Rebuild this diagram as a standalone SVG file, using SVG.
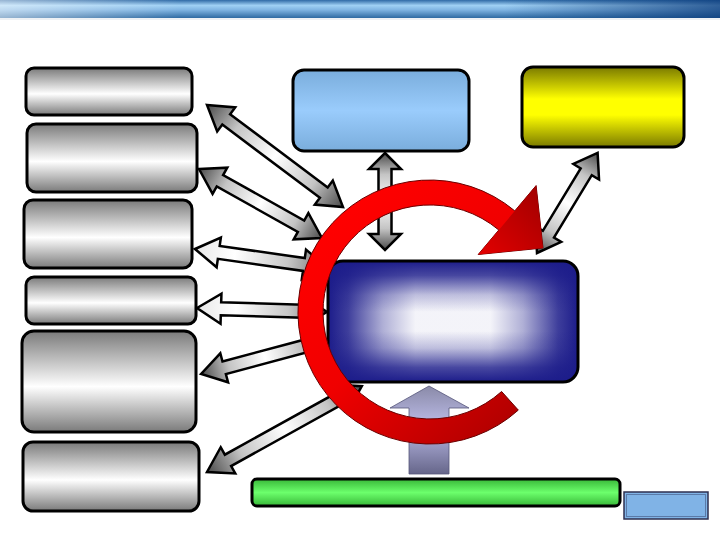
<svg xmlns="http://www.w3.org/2000/svg" width="720" height="540" viewBox="0 0 720 540">
<defs>
<linearGradient id="band" x1="0" y1="0" x2="0" y2="1">
<stop offset="0" stop-color="#2f6aa6"/><stop offset="0.3" stop-color="#9fd0f4"/><stop offset="0.55" stop-color="#7fb4e2"/><stop offset="1" stop-color="#2e6aa2"/>
</linearGradient>
<linearGradient id="bandH" x1="0" y1="0" x2="1" y2="0">
<stop offset="0" stop-color="#ffffff" stop-opacity="0.5"/><stop offset="0.25" stop-color="#ffffff" stop-opacity="0"/><stop offset="0.7" stop-color="#0a3a7a" stop-opacity="0"/><stop offset="1" stop-color="#0a3a7a" stop-opacity="0.75"/>
</linearGradient>
<linearGradient id="gray" x1="0" y1="0" x2="0" y2="1">
<stop offset="0" stop-color="#7a7a7a"/><stop offset="0.55" stop-color="#ffffff"/><stop offset="1" stop-color="#7a7a7a"/>
</linearGradient>
<linearGradient id="sky" x1="0" y1="0" x2="0" y2="1">
<stop offset="0" stop-color="#7aaddc"/><stop offset="0.5" stop-color="#9accfc"/><stop offset="1" stop-color="#7aaddc"/>
</linearGradient>
<linearGradient id="yel" x1="0" y1="0" x2="0" y2="1">
<stop offset="0" stop-color="#7a7a00"/><stop offset="0.4" stop-color="#ffff00"/><stop offset="0.6" stop-color="#ffff00"/><stop offset="1" stop-color="#7a7a00"/>
</linearGradient>
<linearGradient id="grn" x1="0" y1="0" x2="0" y2="1">
<stop offset="0" stop-color="#38b838"/><stop offset="0.5" stop-color="#6cff6c"/><stop offset="1" stop-color="#38b838"/>
</linearGradient>
<linearGradient id="navH" x1="0" y1="0" x2="1" y2="0">
<stop offset="0" stop-color="#1c1c8a" stop-opacity="1"/><stop offset="0.08" stop-color="#1c1c8a" stop-opacity="0.85"/><stop offset="0.22" stop-color="#1c1c8a" stop-opacity="0.35"/><stop offset="0.35" stop-color="#1c1c8a" stop-opacity="0.05"/><stop offset="0.65" stop-color="#1c1c8a" stop-opacity="0.05"/><stop offset="0.78" stop-color="#1c1c8a" stop-opacity="0.35"/><stop offset="0.92" stop-color="#1c1c8a" stop-opacity="0.85"/><stop offset="1" stop-color="#1c1c8a" stop-opacity="1"/>
</linearGradient>
<linearGradient id="navV" x1="0" y1="0" x2="0" y2="1">
<stop offset="0" stop-color="#1c1c8a" stop-opacity="1"/><stop offset="0.12" stop-color="#1c1c8a" stop-opacity="0.8"/><stop offset="0.28" stop-color="#1c1c8a" stop-opacity="0.25"/><stop offset="0.42" stop-color="#1c1c8a" stop-opacity="0"/><stop offset="0.58" stop-color="#1c1c8a" stop-opacity="0"/><stop offset="0.72" stop-color="#1c1c8a" stop-opacity="0.25"/><stop offset="0.88" stop-color="#1c1c8a" stop-opacity="0.8"/><stop offset="1" stop-color="#1c1c8a" stop-opacity="1"/>
</linearGradient>
<linearGradient id="lav" x1="0" y1="0" x2="0" y2="1">
<stop offset="0" stop-color="#8a8aa8"/><stop offset="0.45" stop-color="#bcbce8"/><stop offset="1" stop-color="#66668a"/>
</linearGradient>
<linearGradient id="red" gradientUnits="userSpaceOnUse" x1="330" y1="220" x2="520" y2="420">
<stop offset="0" stop-color="#ff0000"/><stop offset="0.45" stop-color="#f00000"/><stop offset="1" stop-color="#b00000"/>
</linearGradient>
<linearGradient id="redHead" gradientUnits="userSpaceOnUse" x1="480" y1="250" x2="545" y2="190">
<stop offset="0" stop-color="#e00000"/><stop offset="1" stop-color="#a00000"/>
</linearGradient>
<linearGradient id="arr" x1="0" y1="0" x2="1" y2="0">
<stop offset="0" stop-color="#4a4a4a"/><stop offset="0.22" stop-color="#c4c4c4"/><stop offset="0.5" stop-color="#ffffff"/><stop offset="0.78" stop-color="#c4c4c4"/><stop offset="1" stop-color="#4a4a4a"/>
</linearGradient>
<linearGradient id="arrL" x1="0" y1="0" x2="1" y2="0">
<stop offset="0" stop-color="#e8e8e8"/><stop offset="0.3" stop-color="#ffffff"/><stop offset="0.7" stop-color="#c8c8c8"/><stop offset="1" stop-color="#707070"/>
</linearGradient>
</defs>
<style>
.box{stroke:#000;stroke-width:3}
.g{fill:url(#gray)}
.a{fill:url(#arr);stroke:#000;stroke-width:2.5;stroke-linejoin:miter}
.al{fill:url(#arrL);stroke:#000;stroke-width:2.5}
</style>
<rect width="720" height="540" fill="#fff"/>
<g id="header">
<rect x="0" y="0" width="720" height="18" fill="url(#band)"/>
<rect x="0" y="0" width="720" height="18" fill="url(#bandH)"/>
<line x1="0" y1="19" x2="720" y2="19" stroke="#dde3ea" stroke-width="1"/>
</g>
<g id="gray1"><rect class="box g" x="26" y="68" width="166" height="47" rx="8"/></g>
<g id="gray2"><rect class="box g" x="27" y="124" width="170" height="68" rx="9"/></g>
<g id="gray3"><rect class="box g" x="24" y="200" width="168" height="68" rx="9"/></g>
<g id="gray4"><rect class="box g" x="26" y="277" width="170" height="47" rx="8"/></g>
<g id="gray5"><rect class="box g" x="22" y="331" width="174" height="101" rx="12"/></g>
<g id="gray6"><rect class="box g" x="23" y="442" width="176" height="69" rx="10"/></g>
<g id="lightblue"><rect class="box" fill="url(#sky)" x="293" y="70" width="176" height="81" rx="11"/></g>
<g id="yellow"><rect class="box" fill="url(#yel)" x="522" y="67" width="162" height="80" rx="11"/></g>
<g id="green"><rect class="box" fill="url(#grn)" stroke-width="2.5" x="252" y="479" width="368" height="27" rx="5"/></g>
<g id="smallblue"><rect x="624" y="492" width="84" height="27" fill="#80b3e6" stroke="#2e3050" stroke-width="1.5"/><rect x="626.5" y="494.5" width="79" height="22" fill="none" stroke="#5a7aa8" stroke-width="1"/></g>
<g id="connectors">
<path class="a" transform="translate(207 105) rotate(36.87)" d="M0 0L24 -15L24 -6.5L146 -6.5L146 -15L170 0L146 15L146 6.5L24 6.5L24 15Z"/>
<path class="a" transform="translate(199 169) rotate(29.3)" d="M0 0L24 -15L24 -6.5L117 -6.5L117 -15L141 0L117 15L117 6.5L24 6.5L24 15Z"/>
<path class="al" transform="translate(195 249) rotate(8.1)" d="M0 0L24 -15L24 -6.5L110 -6.5L110 -15L134 0L110 15L110 6.5L24 6.5L24 15Z"/>
<path class="al" transform="translate(197 308) rotate(1.76)" d="M0 0L24 -15L24 -6.5L106 -6.5L106 -15L130 0L106 15L106 6.5L24 6.5L24 15Z"/>
<path class="a" transform="translate(201 374) rotate(-15)" d="M0 0L24 -15L24 -6.5L108 -6.5L108 -15L132 0L108 15L108 6.5L24 6.5L24 15Z"/>
<path class="a" transform="translate(207 472) rotate(-29)" d="M0 0L24 -15L24 -6.5L153 -6.5L153 -15L177 0L153 15L153 6.5L24 6.5L24 15Z"/>
<path class="a" transform="translate(385 153) rotate(90)" d="M0 0L16 -16L16 -6.5L81 -6.5L81 -16L97 0L81 16L81 6.5L16 6.5L16 16Z"/>
<path class="a" transform="translate(537 253) rotate(-58.8)" d="M0 0L22 -15L22 -6.5L95 -6.5L95 -15L117 0L95 15L95 6.5L22 6.5L22 15Z"/>
<path id="uparrow" fill="url(#lav)" stroke="#55557a" stroke-width="0.8" d="M429 386L469 408L449 408L449 474L409 474L409 408L390 408Z"/>
</g>
<g id="navy">
<rect x="328" y="261" width="250" height="121" rx="15" fill="#fff"/>
<rect x="328" y="261" width="250" height="121" rx="15" fill="url(#navH)"/>
<rect class="box" x="328" y="261" width="250" height="121" rx="15" fill="url(#navV)"/>
</g>
<g id="cycle">
<path fill="url(#red)" stroke="#6a0000" stroke-width="1" d="M518.3 410.1A132 132 0 1 1 514.8 210.9L536.1 185.6L543 248L478.2 254.5L498.8 230A107 107 0 1 0 501.6 391.5Z"/>
<path fill="url(#redHead)" stroke="none" d="M514.3 211.5L536.1 185.6L543 248L478.2 254.5L499.3 229.4Z"/>
</g>
</svg>
